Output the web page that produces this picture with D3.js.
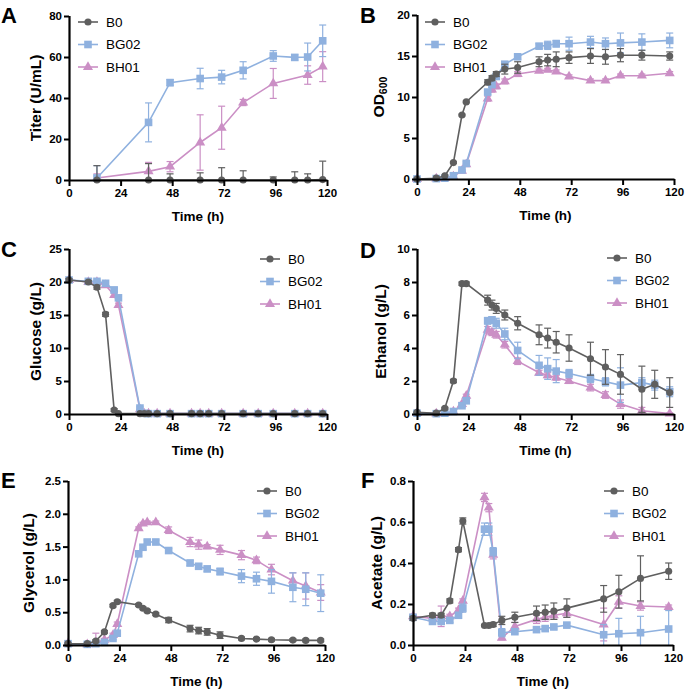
<!DOCTYPE html>
<html><head><meta charset="utf-8">
<script src="https://cdn.jsdelivr.net/npm/d3@7"></script>
<style>
body{margin:0;background:#fff;}
svg{display:block;font-family:Arial,"Liberation Sans",sans-serif;}
</style></head>
<body><svg id="chart" width="685" height="693"></svg>
<script>
// ---------- DATA ----------
const seriesNames = ["B0", "BG02", "BH01"];
const xTicks = [0, 24, 48, 72, 96, 120];
const timeAll = [0, 9, 13, 17, 21, 23, 33, 35, 37, 41, 47, 57, 61, 65, 71, 81, 88, 95, 105, 111, 118];
const titerTime = [13, 37, 47, 61, 71, 81, 95, 105, 111, 118];
const acetateTime = [0, 9, 13, 17, 21, 23, 33, 35, 37, 41, 47, 57, 61, 65, 71, 88, 95, 105, 118];

// A Titer (U/mL)
const titerB0 = [0, 0, 0, 0, 0, 0, 0, 0, 0, 0.2];
const titerB0Err = [7, 8, 3, 3.5, 6, 4.5, 1.5, 4, 3, 9];
const titerBG02 = [1, 28.1, 47.5, 49.5, 50.2, 53.5, 60.5, 59.8, 60.0, 67.9];
const titerBG02Err = [6, 9.5, 1.5, 5, 3.3, 4.2, 2.6, 1.3, 6.8, 7.7];
const titerBH01 = [1, 4.2, 6.5, 18.3, 25.5, 37.8, 47.1, null, 51.2, 55.3];
const titerBH01Err = [2, 4.4, 2.5, 13.5, 10.5, 1.5, 7.3, null, 4.5, 7.3];

// B OD600
const odB0 = [0, 0.1, 0.4, 2.0, 7.8, 9.4, 11.8, 12.3, 12.8, 13.4, 13.6, 14.3, 14.5, 14.6, 14.8, 15.0, 14.9, 15.1, 15.1, null, 15.0];
const odB0Err = [0, 0, 0, 0.1, 0.1, 0.1, 0.3, 0.3, 0.3, 0.6, 0.7, 0.6, 0.7, 0.9, 0.7, 0.9, 0.9, 0.8, 0.6, null, 0.5];
const odBG02 = [0, 0.05, 0.1, 0.4, 1.1, 1.9, 10.6, 11.5, 12.5, 14.0, 14.9, 16.2, 16.3, 16.5, 16.5, 16.7, 16.5, 16.6, 16.7, null, 16.9];
const odBG02Err = [0, 0, 0, 0.1, 0.1, 0.2, 0.3, 0.3, 0.3, 0.3, 0.3, 0.3, 0.5, 0.4, 0.8, 0.7, 0.7, 1.2, 1.0, null, 0.9];
const odBH01 = [0, 0.05, 0.1, 0.3, 1.0, 1.8, 9.8, 10.9, 11.3, 11.9, 12.8, 13.2, 13.3, 13.1, 12.5, 12.0, 12.0, 12.6, 12.6, null, 12.9];
const odBH01Err = [0, 0, 0, 0.1, 0.1, 0.1, 0.3, 0.3, 0.3, 0.3, 0.3, 0.2, 0.2, 0.2, 0.2, 0.2, 0.2, 0.2, 0.2, null, 0.2];

// C Glucose (g/L)
const gluB0 = [20.3, 20.0, 19.2, 15.1, 0.6, 0.05, 0.05, 0.05, 0.05, 0.05, 0.05, 0.05, 0.05, 0.05, 0.05, 0.05, 0.05, 0.05, 0.05, 0.05, 0.05];
const gluB0Err = [0.2, 0.2, 0.3, 0.3, 0.2, 0.05, 0, 0, 0, 0, 0, 0, 0, 0, 0, 0, 0, 0, 0, 0, 0];
const gluBG02 = [20.3, 20.1, 20.1, 19.8, 18.8, 17.6, 0.9, 0.1, 0.05, 0.05, 0.05, 0.05, 0.05, 0.05, 0.05, 0.05, 0.05, 0.05, 0.05, 0.05, 0.05];
const gluBG02Err = [0.2, 0.2, 0.2, 0.2, 0.3, 0.3, 0.2, 0.05, 0, 0, 0, 0, 0, 0, 0, 0, 0, 0, 0, 0, 0];
const gluBH01 = [20.3, 20.0, 20.0, 19.5, 18.0, 16.5, 0.7, 0.05, 0.05, 0.05, 0.05, 0.05, 0.05, 0.05, 0.05, 0.05, 0.05, 0.05, 0.05, 0.05, 0.05];
const gluBH01Err = [0.2, 0.2, 0.2, 0.2, 0.3, 0.3, 0.2, 0.05, 0, 0, 0, 0, 0, 0, 0, 0, 0, 0, 0, 0, 0];

// D Ethanol (g/L)
const ethB0 = [0.1, 0.05, 0.35, 2.0, 7.9, 7.9, 6.9, 6.6, 6.4, 6.0, 5.5, 4.8, 4.6, 4.35, 4.0, 3.35, 2.85, 2.4, 1.5, 1.8, 1.3];
const ethB0Err = [0.02, 0.02, 0.05, 0.1, 0.1, 0.1, 0.3, 0.3, 0.3, 0.3, 0.4, 0.6, 0.6, 0.65, 0.8, 1.0, 1.05, 1.2, 1.4, 0.85, 0.9];
const ethBG02 = [0.05, 0.02, 0.05, 0.15, 0.5, 0.8, 5.65, 5.7, 5.5, 4.85, 3.85, 2.95, 2.75, 2.6, 2.45, 2.15, 1.95, 1.75, 1.9, 1.75, 1.35];
const ethBG02Err = [0, 0, 0, 0.05, 0.1, 0.1, 0.2, 0.2, 0.3, 0.35, 0.5, 0.6, 0.65, 0.7, 0.25, 0.25, 0.25, 1.05, 0.3, 0.3, 0.3];
const ethBH01 = [0.05, 0.02, 0.05, 0.15, 0.6, 1.1, 5.1, 4.95, 4.8, 4.2, 3.2, 2.5, 2.35, 2.2, 2.0, 1.6, 1.15, 0.6, 0.2, null, 0.02];
const ethBH01Err = [0, 0, 0, 0.05, 0.1, 0.1, 0.2, 0.2, 0.2, 0.2, 0.2, 0.15, 0.15, 0.15, 0.15, 0.2, 0.2, 0.25, 0.2, null, 0.05];

// E Glycerol (g/L)
const glyB0 = [0.02, 0.02, 0.06, 0.2, 0.6, 0.66, 0.61, 0.56, 0.52, 0.47, 0.38, 0.25, 0.22, 0.2, 0.15, 0.1, 0.09, 0.08, 0.075, 0.07, 0.07];
const glyB0Err = [0.01, 0.01, 0.02, 0.02, 0.02, 0.02, 0.02, 0.02, 0.02, 0.02, 0.04, 0.05, 0.05, 0.05, 0.05, 0.02, 0.02, 0.02, 0.02, 0.02, 0.02];
const glyBG02 = [0.02, 0.01, 0.02, 0.04, 0.1, 0.18, 1.39, 1.49, 1.57, 1.57, 1.44, 1.25, 1.2, 1.16, 1.12, 1.05, 1.01, 0.97, 0.88, 0.85, 0.79];
const glyBG02Err = [0.01, 0.01, 0.01, 0.01, 0.02, 0.03, 0.03, 0.03, 0.03, 0.03, 0.03, 0.04, 0.04, 0.04, 0.05, 0.1, 0.1, 0.18, 0.22, 0.25, 0.28];
const glyBH01 = [0.02, 0.01, 0.03, 0.08, 0.15, 0.32, 1.78, 1.85, 1.87, 1.87, 1.75, 1.57, 1.53, 1.5, 1.45, 1.37, 1.29, 1.15, 0.98, 0.9, 0.8];
const glyBH01Err = [0.01, 0.01, 0.15, 0.02, 0.03, 0.03, 0.02, 0.02, 0.02, 0.02, 0.05, 0.07, 0.07, 0.03, 0.07, 0.07, 0.05, 0.08, 0.12, 0.2, 0.12];

// F Acetate (g/L)
const aceB0 = [0.13, 0.145, 0.145, 0.215, 0.465, 0.605, 0.095, 0.095, 0.1, 0.12, 0.135, 0.155, 0.16, 0.165, 0.18, 0.225, 0.26, 0.325, 0.36];
const aceB0Err = [0.01, 0.01, 0.01, 0.01, 0.01, 0.015, 0.005, 0.005, 0.01, 0.02, 0.025, 0.035, 0.035, 0.04, 0.045, 0.065, 0.08, 0.11, 0.04];
const aceBG02 = [0.135, 0.115, 0.115, 0.12, 0.145, 0.18, 0.565, 0.565, 0.455, 0.06, 0.065, 0.075, 0.08, 0.088, 0.097, 0.05, 0.055, 0.06, 0.078];
const aceBG02Err = [0.01, 0.01, 0.01, 0.01, 0.01, 0.02, 0.03, 0.03, 0.02, 0.02, 0.01, 0.01, 0.01, 0.01, 0.01, 0.05, 0.075, 0.08, 0.09];
const aceBH01 = [0.14, 0.13, 0.14, 0.14, 0.17, 0.215, 0.72, 0.67, 0.44, 0.035, 0.09, 0.125, 0.135, 0.145, 0.155, 0.1, 0.21, 0.19, 0.185];
const aceBH01Err = [0.01, 0.01, 0.05, 0.01, 0.01, 0.01, 0.02, 0.02, 0.02, 0.01, 0.02, 0.02, 0.02, 0.02, 0.02, 0.08, 0.03, 0.02, 0.01];

// ---------- STYLE ----------
const colors = {B0: "#5f5f5f", BG02: "#8fb1df", BH01: "#cb8fc5"};
const symbols = {B0: d3.symbolCircle, BG02: d3.symbolSquare, BH01: d3.symbolTriangle};
const symSize = {B0: 40, BG02: 58, BH01: 44};

const svg = d3.select("#chart");

function drawPanel(cfg) {
  const x = d3.scaleLinear().domain([0, 120]).range([cfg.left, cfg.right]);
  const y = d3.scaleLinear().domain([0, cfg.yMax]).range([cfg.bottom, cfg.top]).clamp(true);
  const g = svg.append("g");

  // series: draw BH01, BG02, then B0 on top
  const order = [2, 1, 0];
  order.forEach(i => {
    const name = seriesNames[i];
    const vals = cfg.series[i], errs = cfg.errs[i];
    const pts = cfg.time.map((t, k) => ({t, v: vals[k], e: errs[k]})).filter(p => p.v != null);
    const c = colors[name];
    const sg = g.append("g");
    pts.forEach(p => {
      if (!p.e) return;
      const y1 = y(p.v + p.e), y0 = y(Math.max(0, p.v - p.e));
      const xx = x(p.t);
      sg.append("line").attr("x1", xx).attr("x2", xx).attr("y1", y1).attr("y2", y0)
        .attr("stroke", c).attr("stroke-width", 1.2);
      sg.append("line").attr("x1", xx - 3.5).attr("x2", xx + 3.5).attr("y1", y1).attr("y2", y1)
        .attr("stroke", c).attr("stroke-width", 1.2);
      if (p.v - p.e > 0) sg.append("line").attr("x1", xx - 3.5).attr("x2", xx + 3.5).attr("y1", y0).attr("y2", y0)
        .attr("stroke", c).attr("stroke-width", 1.2);
    });
    sg.append("path").datum(pts)
      .attr("d", d3.line().x(p => x(p.t)).y(p => y(p.v)))
      .attr("fill", "none").attr("stroke", c).attr("stroke-width", 1.6);
    sg.selectAll("path.m").data(pts).join("path").attr("class", "m")
      .attr("transform", p => `translate(${x(p.t)},${y(p.v)})`)
      .attr("d", d3.symbol().type(symbols[name]).size(symSize[name]))
      .attr("fill", c);
  });

  // axes
  const xa = g.append("g").attr("transform", `translate(0,${cfg.bottom})`)
    .call(d3.axisBottom(x).tickValues(xTicks).tickSize(6).tickSizeOuter(0).tickPadding(3));
  const ya = g.append("g").attr("transform", `translate(${cfg.left},0)`)
    .call(d3.axisLeft(y).tickValues(cfg.yTicks).tickFormat(cfg.fmt).tickSize(5).tickSizeOuter(0).tickPadding(2));
  [xa, ya].forEach(a => {
    a.select(".domain").attr("stroke", "#000").attr("stroke-width", 2.2);
    a.selectAll(".tick line").attr("stroke", "#000").attr("stroke-width", 2);
    a.selectAll(".tick text").attr("fill", "#000").attr("font-size", 11.5).attr("font-weight", "bold")
      .attr("font-family", "Arial, 'Liberation Sans', sans-serif");
  });
  ya.select(".domain").attr("d", `M0.5,${cfg.top}V${cfg.bottom + 1}`);

  // titles
  g.append("text").attr("x", (cfg.left + cfg.right) / 2).attr("y", cfg.bottom + 36)
    .attr("text-anchor", "middle").attr("dominant-baseline", "central")
    .attr("font-size", 13.5).attr("font-weight", "bold").text("Time (h)");
  const yt = g.append("text").attr("transform", `translate(${cfg.yTitleX},${(cfg.top + cfg.bottom) / 2}) rotate(-90)`)
    .attr("text-anchor", "middle").attr("dominant-baseline", "central")
    .attr("font-size", 15.5).attr("font-weight", "bold");
  if (cfg.yTitleSub) {
    yt.append("tspan").text(cfg.yTitle);
    yt.append("tspan").attr("font-size", 10.5).attr("dy", 5).text(cfg.yTitleSub);
  } else yt.text(cfg.yTitle);

  // panel letter
  g.append("text").attr("x", cfg.letterX).attr("y", cfg.letterY)
    .attr("font-size", 22).attr("font-weight", "bold").text(cfg.letter);

  // legend
  seriesNames.forEach((name, i) => {
    const ly = cfg.legY + i * 22.5;
    const c = colors[name];
    g.append("line").attr("x1", cfg.legX).attr("x2", cfg.legX + 20).attr("y1", ly).attr("y2", ly)
      .attr("stroke", c).attr("stroke-width", 1.6);
    g.append("path").attr("transform", `translate(${cfg.legX + 10},${ly})`)
      .attr("d", d3.symbol().type(symbols[name]).size(symSize[name])).attr("fill", c);
    g.append("text").attr("x", cfg.legX + 28).attr("y", ly).attr("dominant-baseline", "central")
      .attr("font-size", 13.5).attr("fill", "#000").text(name);
  });
}

const f0 = d3.format("d"), f1 = d3.format(".1f");

drawPanel({letter: "A", letterX: 1, letterY: 23, left: 69, right: 327, top: 16, bottom: 180,
  yMax: 80, yTicks: [0, 20, 40, 60, 80], fmt: f0, yTitle: "Titer (U/mL)", yTitleX: 35,
  time: titerTime, series: [titerB0, titerBG02, titerBH01], errs: [titerB0Err, titerBG02Err, titerBH01Err],
  legX: 78, legY: 22});
drawPanel({letter: "B", letterX: 360, letterY: 23, left: 417, right: 674, top: 15, bottom: 179,
  yMax: 20, yTicks: [0, 5, 10, 15, 20], fmt: f0, yTitle: "OD", yTitleSub: "600", yTitleX: 378,
  time: timeAll, series: [odB0, odBG02, odBH01], errs: [odB0Err, odBG02Err, odBH01Err],
  legX: 425, legY: 22});
drawPanel({letter: "C", letterX: 1, letterY: 257, left: 69, right: 327, top: 249, bottom: 414,
  yMax: 25, yTicks: [0, 5, 10, 15, 20, 25], fmt: f0, yTitle: "Glucose (g/L)", yTitleX: 35,
  time: timeAll, series: [gluB0, gluBG02, gluBH01], errs: [gluB0Err, gluBG02Err, gluBH01Err],
  legX: 260, legY: 259});
drawPanel({letter: "D", letterX: 360, letterY: 258, left: 417, right: 674, top: 249, bottom: 414,
  yMax: 10, yTicks: [0, 2, 4, 6, 8, 10], fmt: f0, yTitle: "Ethanol (g/L)", yTitleX: 380,
  time: timeAll, series: [ethB0, ethBG02, ethBH01], errs: [ethB0Err, ethBG02Err, ethBH01Err],
  legX: 607, legY: 258});
drawPanel({letter: "E", letterX: 1, letterY: 488, left: 68, right: 325, top: 481, bottom: 645,
  yMax: 2.5, yTicks: [0, 0.5, 1, 1.5, 2, 2.5], fmt: f1, yTitle: "Glycerol (g/L)", yTitleX: 28.5,
  time: timeAll, series: [glyB0, glyBG02, glyBH01], errs: [glyB0Err, glyBG02Err, glyBH01Err],
  legX: 257, legY: 491});
drawPanel({letter: "F", letterX: 361, letterY: 488, left: 413, right: 673, top: 481, bottom: 645,
  yMax: 0.8, yTicks: [0, 0.2, 0.4, 0.6, 0.8], fmt: f1, yTitle: "Acetate (g/L)", yTitleX: 376,
  time: acetateTime, series: [aceB0, aceBG02, aceBH01], errs: [aceB0Err, aceBG02Err, aceBH01Err],
  legX: 604, legY: 491});
</script></body></html>
